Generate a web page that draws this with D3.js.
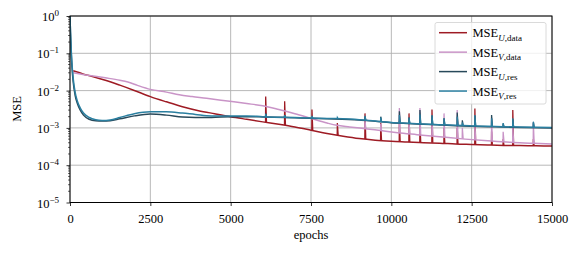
<!DOCTYPE html>
<html>
<head>
<meta charset="utf-8">
<script src="https://cdn.jsdelivr.net/npm/d3@7"></script>
<style>
    body { margin: 0; background: #fff; }
    svg { display: block; font-family: "Liberation Serif", "DejaVu Serif", serif; }
</style>
</head>
<body>
<div id="chart"></div>
<script>
// smooth part of each curve, [epoch, mse]
const redBase = [[100,0.034],[400,0.028],[725,0.0236],[1100,0.019],[1550,0.014],[2000,0.0101],[2500,0.0069],[3000,0.005],[3500,0.0037],[4000,0.0029],[4500,0.0024],[5000,0.002],[5500,0.0017],[6000,0.00145],[6500,0.00125],[7000,0.00106],[7500,0.00087],[8000,0.00071],[8500,0.0006],[9000,0.00052],[9500,0.00047],[10000,0.00044],[10500,0.00042],[11000,0.0004],[11500,0.00039],[12000,0.00037],[12500,0.00036],[13000,0.00035],[13500,0.00034],[14000,0.000335],[14500,0.00033],[15000,0.000325]];
const pinkBase = [[100,0.030],[400,0.027],[725,0.0246],[1100,0.022],[1550,0.019],[1800,0.017],[2100,0.0138],[2500,0.0108],[3000,0.0091],[3400,0.0077],[3800,0.0069],[4250,0.0062],[4700,0.0055],[5100,0.0050],[5500,0.0045],[6000,0.0039],[6500,0.0031],[7000,0.0024],[7500,0.0018],[8000,0.00135],[8300,0.00117],[8700,0.00106],[9200,0.00095],[9600,0.00087],[10200,0.00074],[10800,0.00066],[11500,0.00058],[12300,0.0005],[13000,0.00045],[13700,0.00041],[14300,0.00039],[15000,0.00037]];
const darkBase = [[0,1.0],[15,0.35],[35,0.12],[60,0.045],[100,0.017],[160,0.0075],[230,0.0045],[320,0.003],[420,0.0022],[600,0.0017],[800,0.00155],[1000,0.00152],[1250,0.00156],[1550,0.00175],[2000,0.0021],[2500,0.00235],[3000,0.0022],[3500,0.00195],[3900,0.0019],[4400,0.0019],[5000,0.002],[5500,0.002],[6000,0.00197],[7000,0.00187],[8000,0.00177],[9000,0.00163],[9500,0.0015],[10000,0.00138],[10500,0.00131],[11000,0.00125],[11500,0.0012],[12000,0.00115],[12500,0.00111],[13000,0.00108],[14000,0.00103],[15000,0.001]];
const tealBase = [[0,1.0],[15,0.38],[35,0.14],[60,0.055],[100,0.021],[160,0.009],[230,0.0052],[320,0.0034],[420,0.0025],[600,0.0019],[800,0.00165],[1000,0.00158],[1250,0.00163],[1550,0.0019],[2000,0.0024],[2500,0.0027],[3000,0.0027],[3500,0.0025],[3900,0.0023],[4400,0.0021],[5000,0.0021],[5500,0.0021],[6000,0.002],[7000,0.0019],[8000,0.0018],[9000,0.00166],[9500,0.00152],[10000,0.0014],[10500,0.00133],[11000,0.00127],[11500,0.00122],[12000,0.00117],[12500,0.00113],[13000,0.0011],[14000,0.00105],[15000,0.00102]];

// spikes, [epoch, base, peak]
const redSpikes = [[6090,0.00142,0.0069],[6680,0.0012,0.0052],[7530,0.00086,0.0031],[8320,0.00064,0.00135],[9180,0.0005,0.00245],[9670,0.00046,0.00135],[10250,0.00043,0.0015],[10550,0.00042,0.00245],[10890,0.0004,0.0015],[11265,0.0004,0.0031],[11640,0.00038,0.001],[12050,0.00037,0.001],[12600,0.00036,0.0033],[13120,0.00035,0.0008],[13480,0.00034,0.0005],[13780,0.00034,0.003],[14420,0.00033,0.0005]];
const pinkSpikes = [[9180,0.00095,0.0017],[9670,0.00086,0.0013],[10250,0.00074,0.0034],[10550,0.0007,0.0015],[10890,0.00066,0.0034],[11265,0.00062,0.0015],[11640,0.00057,0.00245],[12050,0.00053,0.003],[12210,0.00051,0.001],[12600,0.00048,0.0013],[13120,0.00045,0.0018],[13480,0.00043,0.00079],[13780,0.00041,0.0012],[14420,0.00039,0.0014]];
const darkSpikes = [[6090,0.00197,0.0024],[6680,0.00192,0.0022],[9180,0.00163,0.002],[9670,0.0015,0.002],[10250,0.00137,0.0028],[10550,0.0013,0.0019],[10890,0.00126,0.003],[11265,0.00123,0.0021],[11640,0.0012,0.0018],[12050,0.00116,0.0026],[12210,0.00114,0.0016],[12600,0.00111,0.0021],[13120,0.00108,0.0022],[13480,0.00106,0.0013],[13780,0.00105,0.0017],[14420,0.00102,0.0014]];
const tealSpikes = [[6090,0.002,0.0024],[6680,0.00195,0.0022],[7530,0.00185,0.0021],[8320,0.00175,0.0019],[9180,0.00164,0.0021],[9670,0.0015,0.0019],[10250,0.0014,0.0022],[10550,0.00133,0.0019],[10890,0.00128,0.0023],[11265,0.00125,0.0022],[11640,0.0012,0.0018],[12050,0.00117,0.002],[12210,0.00116,0.0014],[12600,0.00113,0.0022],[13120,0.0011,0.0018],[13480,0.00108,0.00135],[13780,0.00107,0.0018],[14420,0.00104,0.00147]];

const xTicks = [0, 2500, 5000, 7500, 10000, 12500, 15000];
const yExps = [0, -1, -2, -3, -4, -5];

const series = [
    { sub: "U", tag: "data", color: "#9e1b24", base: redBase, spikes: redSpikes },
    { sub: "V", tag: "data", color: "#c994c7", base: pinkBase, spikes: pinkSpikes },
    { sub: "U", tag: "res", color: "#28495a", base: darkBase, spikes: darkSpikes },
    { sub: "V", tag: "res", color: "#2a7fa0", base: tealBase, spikes: tealSpikes }
];

const W = 581, H = 256;
const pLeft = 70, pRight = 552, pTop = 16, pBottom = 202.5;

const svg = d3.select("#chart").append("svg")
    .attr("width", W)
    .attr("height", H);

const x = d3.scaleLinear().domain([0, 15000]).range([pLeft, pRight]);
const y = d3.scaleLog().domain([1e-5, 1]).range([pBottom, pTop]);

// grid
const grid = svg.append("g").attr("stroke", "#b0b0b0").attr("stroke-width", 0.9);
grid.selectAll(".gx").data(xTicks).join("line")
    .attr("x1", d => x(d)).attr("x2", d => x(d))
    .attr("y1", pTop).attr("y2", pBottom);
grid.selectAll(".gy").data(yExps).join("line")
    .attr("x1", pLeft).attr("x2", pRight)
    .attr("y1", d => y(Math.pow(10, d))).attr("y2", d => y(Math.pow(10, d)));

svg.append("clipPath").attr("id", "clip")
    .append("rect").attr("x", pLeft).attr("y", pTop)
    .attr("width", pRight - pLeft).attr("height", pBottom - pTop);

const lineSmooth = d3.line().x(d => x(d[0])).y(d => y(d[1])).curve(d3.curveMonotoneX);
const lineSharp = d3.line().x(d => x(d[0])).y(d => y(d[1]));

const plot = svg.append("g").attr("clip-path", "url(#clip)");
series.forEach(s => {
    plot.append("path")
        .attr("d", lineSmooth(s.base))
        .attr("fill", "none")
        .attr("stroke", s.color)
        .attr("stroke-width", 1.5);
    // each spike: jump up, fast decay back
    plot.selectAll(null).data(s.spikes).join("path")
        .attr("d", d => lineSharp([[d[0] - 5, d[1]], [d[0], d[2]], [d[0] + 25, d[1]]]))
        .attr("fill", "none")
        .attr("stroke", s.color)
        .attr("stroke-width", 1.3);
});

// axes
const xAxis = svg.append("g")
    .attr("transform", `translate(0,${pBottom})`)
    .call(d3.axisBottom(x).tickValues(xTicks).tickSize(3.5).tickPadding(8).tickFormat(d3.format("d")));
xAxis.select(".domain").remove();
xAxis.selectAll("line").attr("stroke", "#000").attr("stroke-width", 0.8);
xAxis.selectAll("text").attr("font-size", 12.5).attr("font-family", "Liberation Serif, serif").attr("fill", "#000");

const minor = y.ticks().filter(v => Math.abs(Math.log10(v) - Math.round(Math.log10(v))) > 1e-6);
svg.append("g").selectAll("line").data(minor).join("line")
    .attr("x1", pLeft - 2).attr("x2", pLeft)
    .attr("y1", d => y(d)).attr("y2", d => y(d))
    .attr("stroke", "#000").attr("stroke-width", 0.6);

const yAxis = svg.append("g")
    .attr("transform", `translate(${pLeft},0)`)
    .call(d3.axisLeft(y).tickValues(yExps.map(e => Math.pow(10, e))).tickSize(3.5).tickFormat(""));
yAxis.select(".domain").remove();
yAxis.selectAll("line").attr("stroke", "#000").attr("stroke-width", 0.8);

const yLab = svg.append("g").selectAll("text").data(yExps).join("text")
    .attr("x", 59)
    .attr("y", d => y(Math.pow(10, d)) + 5)
    .attr("text-anchor", "end")
    .attr("font-size", 12.5);
yLab.append("tspan").text("10");
yLab.append("tspan")
    .attr("dy", -5)
    .attr("font-size", 9)
    .text(d => d === 0 ? "0" : "\u2212" + (-d));

// frame
svg.append("rect")
    .attr("x", pLeft).attr("y", pTop)
    .attr("width", pRight - pLeft).attr("height", pBottom - pTop)
    .attr("fill", "none").attr("stroke", "#000").attr("stroke-width", 1);

svg.append("text")
    .attr("x", (pLeft + pRight) / 2).attr("y", 238.5)
    .attr("text-anchor", "middle").attr("font-size", 12.5)
    .text("epochs");

svg.append("text")
    .attr("transform", "translate(20.5,109) rotate(-90)")
    .attr("text-anchor", "middle").attr("font-size", 12.5)
    .text("MSE");

// legend
const legend = svg.append("g");
legend.append("rect")
    .attr("x", 435).attr("y", 22.5)
    .attr("width", 111).attr("height", 81.5)
    .attr("rx", 2)
    .attr("fill", "#fff").attr("fill-opacity", 0.8)
    .attr("stroke", "#d6d6d6").attr("stroke-width", 0.9);

const item = legend.selectAll(".item").data(series).join("g")
    .attr("transform", (d, i) => `translate(439,${32.7 + i * 19.45})`);
item.append("line")
    .attr("x1", 0).attr("x2", 28)
    .attr("stroke", d => d.color).attr("stroke-width", 1.5);
const lt = item.append("text")
    .attr("x", 33.5).attr("y", 4.5)
    .attr("font-size", 12.5);
lt.append("tspan").text("MSE");
lt.append("tspan").attr("dy", 3.5).attr("font-size", 9)
    .attr("font-style", "italic").text(d => d.sub);
lt.append("tspan").attr("font-size", 9).text(d => "," + d.tag);
</script>
</body>
</html>
